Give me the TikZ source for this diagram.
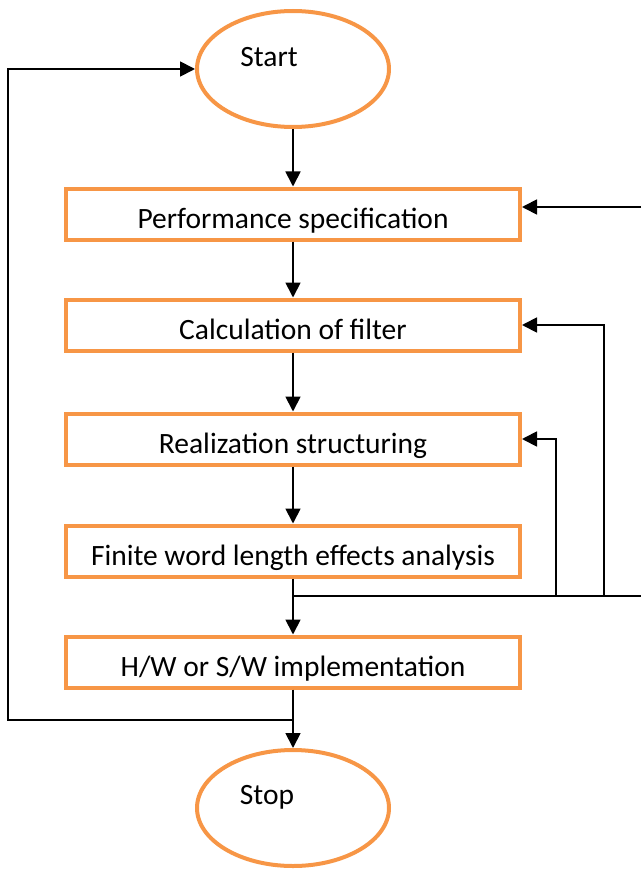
\documentclass[tikz,border=0pt]{standalone}
\usepackage{fontspec}
\setmainfont{Carlito}
\usepackage{xcolor}
\usetikzlibrary{positioning, arrows.meta, shapes.geometric, calc}
\definecolor{boxorange}{RGB}{247,150,70}

\begin{document}
\begin{tikzpicture}[
  x=1pt, y=-1pt,
  every node/.style={font=\fontsize{29.5}{34}\selectfont},
  stepbox/.style={draw=boxorange, line width=4pt, minimum width=454pt,
    minimum height=51pt, inner sep=0pt, text height=28pt, text depth=0pt},
  terminal/.style={draw=boxorange, line width=4pt, ellipse,
    minimum width=192pt, minimum height=116pt, inner sep=0pt},
  flow/.style={line width=1.8pt, -{Triangle[length=15pt, width=15pt]}},
  line/.style={line width=1.8pt}
]
\useasboundingbox (0,0) rectangle (641,869);

% terminals
\node[terminal] (start) at (293,69) {};
\node (starttxt) at (269,57) {Start};
\node[terminal] (stop) at (293,808) {};
\node (stoptxt) at (267,797) {Stop};

% process boxes: (name, y, text)
\def\stepnode#1#2#3{%
  \node[stepbox] (#1) at (293,#2) {#3};
}
\stepnode{perf}{214}{Performance specification}
\stepnode{calc}{325}{Calculation of filter}
\stepnode{real}{439}{Realization structuring}
\stepnode{fwl}{551}{Finite word length effects analysis}
\stepnode{impl}{662}{H/W or S/W implementation}

% main flow
\draw[flow] (start.south) -- (perf.north);
\draw[flow] (perf.south) -- (calc.north);
\draw[flow] (calc.south) -- (real.north);
\draw[flow] (real.south) -- (fwl.north);
\draw[flow] (fwl.south) -- (impl.north);
\draw[flow] (impl.south) -- (stop.north);

% feedback paths
\coordinate (split) at (293,596);
\coordinate (edge) at (641,596);
\coordinate (fbtop) at (641,207);
\coordinate (join) at (293,720);
\draw[line] (split) -- (edge);
\draw[flow] (fbtop) -- (fbtop -| perf.east);
\draw[flow] (split -| 604,0) |- (calc.east);
\draw[flow] (split -| 556,0) |- (real.east);
\draw[flow] (join) -- (8,720) |- (start.west);
\end{tikzpicture}
\end{document}
